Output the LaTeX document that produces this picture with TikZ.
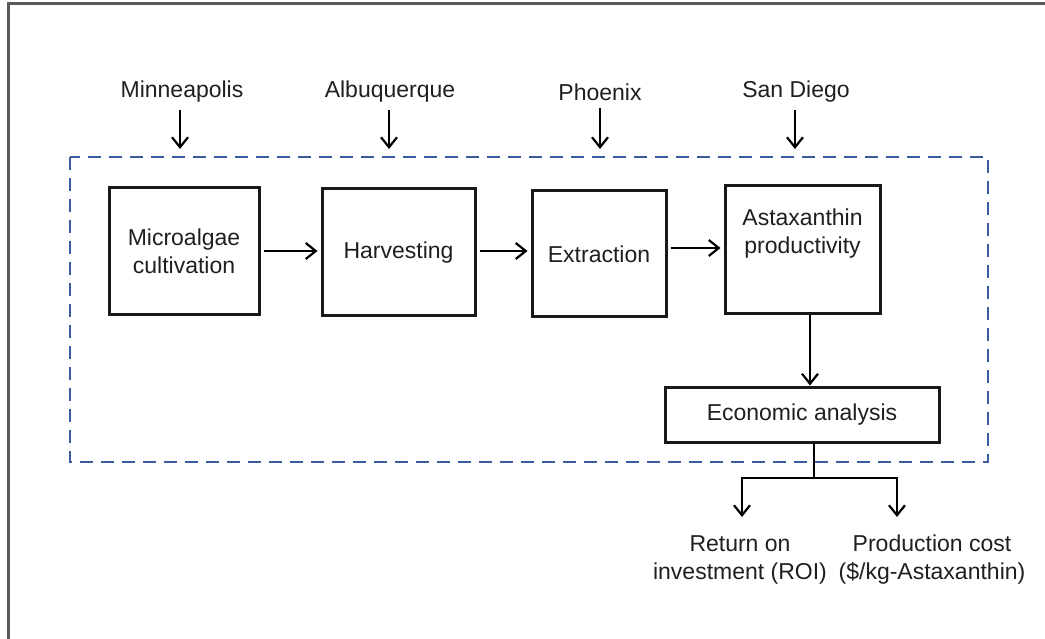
\documentclass[tikz,border=0pt]{standalone}
\usepackage{fontspec}
\setmainfont{Liberation Sans}
\usetikzlibrary{arrows.meta}
\begin{document}
\begin{tikzpicture}[x=1pt,y=-1pt,
  every node/.style={font=\fontsize{23}{28}\selectfont, text=black!88},
  stepbox/.style={draw=black!90, line width=3pt, inner sep=0pt, align=center},
  flow/.style={line width=2.2pt, -{Straight Barb[length=10pt,width=16pt,line width=2.2pt]}},
  wire/.style={line width=2.2pt},
  group/.style={draw={rgb,255:red,58;green,92;blue,160}, line width=2.6pt, dash pattern=on 13pt off 8pt}]
\useasboundingbox (0,0) rectangle (1045,639);
% outer frame, open at right and bottom
\begin{scope}
\clip (0,0) rectangle (1045,639);
\draw[black!65, line width=3pt] (8,4) rectangle (1060,660);
\end{scope}
% dashed system boundary
\draw[group] (70,157) rectangle (988,462);
% site labels
\node (mn) at (182,92) {Minneapolis};
\node (ab) at (390,92) {Albuquerque};
\node (ph) at (600,92) {Phoenix};
\node (sd) at (796,92) {San Diego};
\coordinate (mnE) at (180,149);
\coordinate (abE) at (389,149);
\coordinate (phE) at (600,149);
\coordinate (sdE) at (795,149);
\draw[flow] (mnE |- mn.south) ++(0,4) coordinate (mnS) (mnS) -- (mnE);
\draw[flow] (abE |- ab.south) ++(0,4) coordinate (abS) (abS) -- (abE);
\draw[flow] (phE |- ph.south) ++(0,4) coordinate (phS) (phS) -- (phE);
\draw[flow] (sdE |- sd.south) ++(0,4) coordinate (sdS) (sdS) -- (sdE);
% process boxes
\node[stepbox, minimum width=150pt, minimum height=127pt] (cult) at (184,251.5) {Microalgae\\cultivation};
\node[stepbox, minimum width=153pt, minimum height=127pt] (harv) at (398.5,252.5) {Harvesting};
\node[stepbox, minimum width=134pt, minimum height=126pt] (extr) at (599,254) {Extraction};
\node[stepbox, minimum width=155pt, minimum height=128pt] (asta) at (802.5,250) {Astaxanthin\\productivity\\[10pt]};
\node[stepbox, minimum width=274pt, minimum height=55pt] (econ) at (802,414.5) {Economic analysis};
% flow between boxes
\draw[flow] ([xshift=3pt]cult.east |- 0,251) -- ([xshift=-3pt]harv.west |- 0,251);
\draw[flow] ([xshift=3pt]harv.east |- 0,251) -- ([xshift=-3pt]extr.west |- 0,251);
\draw[flow] ([xshift=3pt]extr.east |- 0,248) -- ([xshift=-3pt]asta.west |- 0,248);
\draw[flow] (asta.south -| 810,0) -- (econ.north -| 810,0);
% outputs
\node[align=center] (roi) at (740,560) {Return on\\investment (ROI)};
\node[align=center] (cost) at (932,560) {Production cost\\(\$/kg-Astaxanthin)};
\coordinate (split) at (814,478);
\draw[wire] (econ.south -| split) -- (split);
\draw[wire] (741,478) -- (898,478);
\draw[flow] (742,478) -- (742,517);
\draw[flow] (897,478) -- (897,517);
\end{tikzpicture}
\end{document}
